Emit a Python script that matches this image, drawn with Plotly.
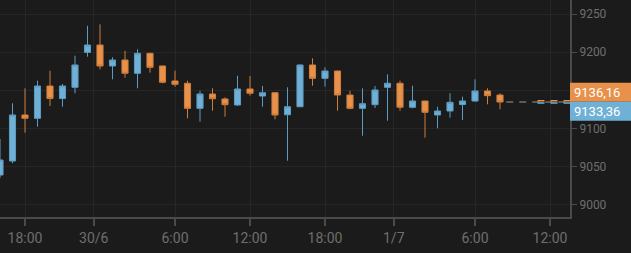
import plotly.graph_objects as go

# ---- data ----
times = [
    "2020-06-29 16:00", "2020-06-29 17:00", "2020-06-29 18:00", "2020-06-29 19:00",
    "2020-06-29 20:00", "2020-06-29 21:00", "2020-06-29 22:00", "2020-06-29 23:00",
    "2020-06-30 00:00", "2020-06-30 01:00", "2020-06-30 02:00", "2020-06-30 03:00",
    "2020-06-30 04:00", "2020-06-30 05:00", "2020-06-30 06:00", "2020-06-30 07:00",
    "2020-06-30 08:00", "2020-06-30 09:00", "2020-06-30 10:00", "2020-06-30 11:00",
    "2020-06-30 12:00", "2020-06-30 13:00", "2020-06-30 14:00", "2020-06-30 15:00",
    "2020-06-30 16:00", "2020-06-30 17:00", "2020-06-30 18:00", "2020-06-30 19:00",
    "2020-06-30 20:00", "2020-06-30 21:00", "2020-06-30 22:00", "2020-06-30 23:00",
    "2020-07-01 00:00", "2020-07-01 01:00", "2020-07-01 02:00", "2020-07-01 03:00",
    "2020-07-01 04:00", "2020-07-01 05:00", "2020-07-01 06:00", "2020-07-01 07:00",
    "2020-07-01 08:00",
]
open_ = [9038.7, 9057.1, 9117.5, 9113.1, 9155.5, 9139.1, 9153.8, 9199.7,
         9209.3, 9181.8, 9189.6, 9172.2, 9198.4, 9181.8, 9162.1, 9159.1,
         9126.2, 9145.0, 9138.5, 9130.6, 9151.6, 9142.4, 9146.7, 9117.8,
         9128.3, 9183.1, 9165.6, 9175.2, 9143.7, 9126.2, 9131.0, 9153.8,
         9159.1, 9127.6, 9135.8, 9117.5, 9122.7, 9131.2, 9135.8, 9149.0,
         9143.7]
high = [9086.0, 9132.8, 9152.5, 9162.5, 9175.6, 9158.1, 9195.3, 9234.6,
        9236.5, 9193.2, 9201.8, 9203.7, 9199.2, 9182.3, 9175.6, 9162.5,
        9149.3, 9152.5, 9140.7, 9169.0, 9168.6, 9155.5, 9147.0, 9153.8,
        9184.0, 9191.9, 9180.0, 9175.6, 9149.3, 9152.5, 9155.5, 9170.9,
        9162.5, 9155.9, 9136.0, 9128.3, 9146.0, 9141.5, 9164.3, 9152.5,
        9146.0]
low = [9034.8, 9054.1, 9094.2, 9102.1, 9129.3, 9128.3, 9145.9, 9194.0,
       9177.4, 9164.3, 9166.4, 9152.5, 9173.0, 9159.1, 9154.6, 9113.1,
       9108.7, 9123.1, 9115.2, 9129.3, 9142.8, 9128.3, 9111.8, 9057.5,
       9128.0, 9155.9, 9154.6, 9123.1, 9125.0, 9090.3, 9126.6, 9110.0,
       9123.1, 9126.2, 9087.7, 9100.0, 9113.9, 9110.9, 9135.0, 9131.5,
       9125.0]
close = [9058.4, 9117.5, 9113.1, 9155.5, 9139.1, 9155.5, 9183.1, 9209.3,
         9181.8, 9189.6, 9172.2, 9198.4, 9180.0, 9160.4, 9157.7, 9126.2,
         9145.0, 9138.8, 9131.0, 9151.6, 9146.0, 9146.7, 9117.5, 9128.3,
         9183.1, 9165.6, 9175.2, 9143.7, 9126.2, 9132.3, 9150.3, 9159.1,
         9127.6, 9135.8, 9121.0, 9122.7, 9134.1, 9135.8, 9149.0, 9142.8,
         9134.5]

ask_price = 9136.16
bid_price = 9133.36
ask_label = "9136,16"
bid_label = "9133,36"

x_range = ["2020-06-29 16:00", "2020-07-01 13:36"]
tick_vals = ["2020-06-29 18:00", "2020-06-29 23:30", "2020-06-30 06:00", "2020-06-30 12:00",
             "2020-06-30 18:00", "2020-06-30 23:30", "2020-07-01 06:00", "2020-07-01 12:00"]
tick_text = ["18:00", "30/6", "6:00", "12:00", "18:00", "1/7", "6:00", "12:00"]
y_ticks = [9000, 9050, 9100, 9150, 9200, 9250]
y_ticktext = ["9000", "9050", "9100", "", "9200", "9250"]

# ---- style ----
BG = "#1b1b1b"
GRID = "#262626"
AXIS = "#4a4a4a"
TICKFONT = "#6e6e6e"
BLUE = "#6fb0d6"
BLUE_LINE = "#5d9cc2"
ORANGE = "#e8914a"
ORANGE_LINE = "#cf7d3b"

fig = go.Figure()
fig.add_trace(go.Candlestick(
    x=times, open=open_, high=high, low=low, close=close,
    increasing=dict(line=dict(color=BLUE_LINE, width=1), fillcolor=BLUE),
    decreasing=dict(line=dict(color=ORANGE_LINE, width=1), fillcolor=ORANGE),
    whiskerwidth=0, hoverinfo="skip", showlegend=False,
))

# last-price dashed lines
fig.add_trace(go.Scatter(
    x=["2020-07-01 08:30", x_range[1]], y=[close[-1], close[-1]],
    mode="lines", line=dict(color="#5a5a5a", width=2, dash="7px,6px"),
    hoverinfo="skip", showlegend=False))
fig.add_trace(go.Scatter(
    x=["2020-07-01 11:00", x_range[1]], y=[bid_price, bid_price],
    mode="lines", line=dict(color=BLUE, width=1.5, dash="7px,6px"),
    hoverinfo="skip", showlegend=False))
fig.add_trace(go.Scatter(
    x=["2020-07-01 11:00", x_range[1]], y=[ask_price, ask_price],
    mode="lines", line=dict(color=ORANGE, width=1.5, dash="7px,6px"),
    hoverinfo="skip", showlegend=False))

mid = (ask_price + bid_price) / 2
box_w = 61 / 570
fig.add_shape(type="rect", xref="paper", yref="y", x0=1, x1=1 + box_w,
              ysizemode="pixel", yanchor=mid, y0=0, y1=19,
              fillcolor=ORANGE, line=dict(width=0), layer="above")
fig.add_shape(type="rect", xref="paper", yref="y", x0=1, x1=1 + box_w,
              ysizemode="pixel", yanchor=mid, y0=-19, y1=0,
              fillcolor=BLUE, line=dict(width=0), layer="above")
fig.add_annotation(xref="paper", yref="y", x=1, y=mid, xanchor="left", yanchor="middle",
                   xshift=2, yshift=9.5, text=ask_label, showarrow=False,
                   font=dict(family="Roboto", size=13, color="#ffffff"))
fig.add_annotation(xref="paper", yref="y", x=1, y=mid, xanchor="left", yanchor="middle",
                   xshift=2, yshift=-9.5, text=bid_label, showarrow=False,
                   font=dict(family="Roboto", size=13, color="#ffffff"))

fig.update_layout(
    width=631, height=253,
    margin=dict(l=0, r=61, t=0, b=36),
    paper_bgcolor=BG, plot_bgcolor=BG,
    font=dict(family="Roboto", color=TICKFONT),
    showlegend=False,
    xaxis=dict(
        type="date", range=x_range, rangeslider=dict(visible=False),
        tickvals=tick_vals, ticktext=tick_text,
        showgrid=True, gridcolor=GRID, gridwidth=1, zeroline=False,
        ticks="outside", ticklen=7, tickcolor=AXIS, tickwidth=2,
        showline=True, linecolor=AXIS, linewidth=2,
        tickfont=dict(size=14, color=TICKFONT),
    ),
    yaxis=dict(
        side="right", range=[8983.6, 9268.4],
        tickvals=y_ticks, ticktext=y_ticktext,
        showgrid=True, gridcolor=GRID, gridwidth=1, zeroline=False,
        ticks="outside", ticklen=5, tickcolor=AXIS, tickwidth=1,
        showline=True, linecolor=AXIS, linewidth=2,
        tickfont=dict(size=12, color=TICKFONT),
    ),
)

fig.write_html("out.html", config={"displayModeBar": False})
